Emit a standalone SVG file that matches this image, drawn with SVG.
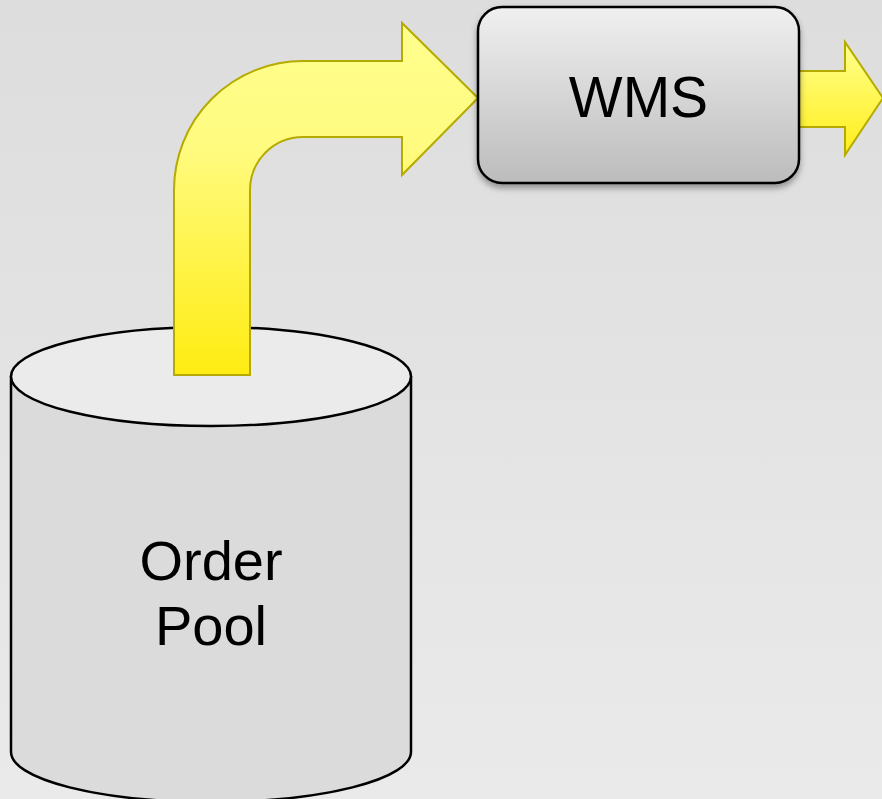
<svg xmlns="http://www.w3.org/2000/svg" width="882" height="799" viewBox="0 0 882 799">
  <defs>
    <linearGradient id="bg" x1="0" y1="0" x2="0" y2="1">
      <stop offset="0" stop-color="#dddddd"/>
      <stop offset="1" stop-color="#eaeaea"/>
    </linearGradient>
    <linearGradient id="box" x1="0" y1="0" x2="0" y2="1">
      <stop offset="0" stop-color="#f0f0f0"/>
      <stop offset="1" stop-color="#bcbcbc"/>
    </linearGradient>
    <linearGradient id="yel1" gradientUnits="userSpaceOnUse" x1="0" y1="23" x2="0" y2="375">
      <stop offset="0" stop-color="#ffff8e"/>
      <stop offset="0.35" stop-color="#fffb80"/>
      <stop offset="1" stop-color="#ffec12"/>
    </linearGradient>
    <linearGradient id="yel2" gradientUnits="userSpaceOnUse" x1="0" y1="42" x2="0" y2="155">
      <stop offset="0" stop-color="#ffff8e"/>
      <stop offset="1" stop-color="#ffee1a"/>
    </linearGradient>
    <filter id="shadow" x="-10%" y="-10%" width="120%" height="130%">
      <feDropShadow dx="0" dy="4" stdDeviation="3" flood-color="#000" flood-opacity="0.35"/>
    </filter>
  </defs>
  <style>
    .lbl { font-family: "Liberation Sans", Arial, sans-serif; fill: #000; text-anchor: middle; }
    .arrow { stroke: #b5aa00; stroke-width: 2; stroke-linejoin: miter; }
    .edge { stroke: #000; stroke-width: 2.5; }
  </style>
  <rect x="0" y="0" width="882" height="799" fill="url(#bg)"/>

  <g id="order-pool">
    <path class="edge" d="M11,376 L11,752 A200,50 0 0 0 411,752 L411,376" fill="#dbdbdb"/>
    <ellipse class="edge" cx="211" cy="376.5" rx="200" ry="49.5" fill="#ebebeb"/>
    <text class="lbl" x="211" y="580" font-size="56">Order</text>
    <text class="lbl" x="211" y="645" font-size="56">Pool</text>
  </g>

  <g id="connectors">
    <path class="arrow" fill="url(#yel1)" d="M174,375 L174,190 A129,129 0 0 1 303,61 L402,61 L402,23 L478,98 L402,175 L402,137 L303,137 A53,53 0 0 0 250,190 L250,375 Z"/>
    <path class="arrow" fill="url(#yel2)" d="M799,71 L845,71 L845,42 L883,98 L845,155 L845,127 L799,127 Z"/>
  </g>

  <g id="wms">
    <rect x="478" y="7" width="321" height="176" rx="24" ry="24" fill="url(#box)" stroke="#000" stroke-width="2.5" filter="url(#shadow)"/>
    <text class="lbl" x="638.5" y="117" font-size="57">WMS</text>
  </g>
</svg>
